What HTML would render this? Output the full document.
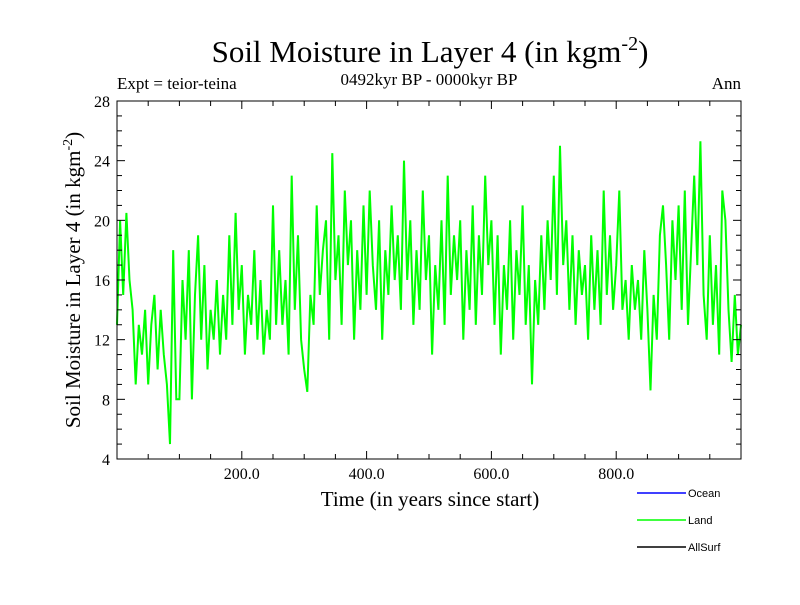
<!DOCTYPE html>
<html><head><meta charset="utf-8"><style>
body{margin:0;background:#fff;}
svg text{font-family:"Liberation Serif",serif;}
</style></head><body>
<svg id="chart" width="800" height="600">
<text x="430" y="62" font-size="31" text-anchor="middle">Soil Moisture in Layer 4 (in kgm<tspan dy="-12" font-size="20">-2</tspan><tspan dy="12">)</tspan></text>
<text x="117" y="89" font-size="17">Expt = teior-teina</text>
<text x="429" y="85" font-size="17" text-anchor="middle">0492kyr BP - 0000kyr BP</text>
<text x="741" y="89" font-size="17" text-anchor="end">Ann</text>
<g id="plot"></g>
<text x="430" y="506" font-size="21" text-anchor="middle">Time (in years since start)</text>
<text transform="translate(80,280) rotate(-90)" font-size="21" text-anchor="middle">Soil Moisture in Layer 4 (in kgm<tspan dy="-8" font-size="14">-2</tspan><tspan dy="8">)</tspan></text>
<g>
<line x1="637" y1="493" x2="686" y2="493" stroke="#0000ff" stroke-width="1.5"/>
<text x="688" y="497" font-size="11" style="font-family:'Liberation Sans',sans-serif">Ocean</text>
<line x1="637" y1="520" x2="686" y2="520" stroke="#00ff00" stroke-width="1.5"/>
<text x="688" y="524" font-size="11" style="font-family:'Liberation Sans',sans-serif">Land</text>
<line x1="637" y1="547" x2="686" y2="547" stroke="#000" stroke-width="1.5"/>
<text x="688" y="551" font-size="11" style="font-family:'Liberation Sans',sans-serif">AllSurf</text>
</g>
</svg>
<script>
const yTicks=[4,8,12,16,20,24,28];
const xTicks=[200,400,600,800];
const xTickLabels=["200.0","400.0","600.0","800.0"];
const yearStep=5;
const land=[
13,20,15,20.5,16,14,9,13,11,14,
9,13,15,10,14,11,9,5,18,8,
8,16,12,18,8,15,19,12,17,10,
14,12,16,11,15,12,19,13,20.5,14,
17,11,15,13,18,12,16,11,14,12,
21,13,18,13,16,11,23,14,19,12,
10,8.5,15,13,21,15,18,20,12,24.5,
16,19,13,22,17,20,12,18,14,21,
15,22,17,14,20,12,18,15,21,16,
19,14,24,16,20,13,18,14,22,16,
19,11,17,14,20,13,23,15,19,16,
20,12,18,14,21,13,19,15,23,17,
20,13,19,11,17,14,20,12,18,15,
21,13,17,9,16,13,19,14,20,16,
23,15,25,17,20,14,19,13,18,15,
17,12,19,14,18,13,22,15,19,14,
17,22,14,16,12,17,14,16,12,18,
14,8.6,15,12,19,21,17,12,20,16,
21,14,22,13,18,23,17,25.3,15,12,
19,13,17,11,22,20,14,10.5,15,11,
13];
</script>
<script>
const plot=document.getElementById('plot');
const NS='http://www.w3.org/2000/svg';
const X0=117,X1=741,Y0=459,Y1=101;
const xs=v=>X0+(v/1000)*(X1-X0);
const ys=v=>Y0-(v-4)/24*(Y0-Y1);
function mk(t,a){const e=document.createElementNS(NS,t);for(const k in a)e.setAttribute(k,a[k]);plot.appendChild(e);return e;}
let pts=land.map((v,i)=>xs(Math.min(i*yearStep,1000)).toFixed(1)+','+ys(v).toFixed(1)).join(' ');
const line=mk('polyline',{points:pts,fill:'none',stroke:'#00ff00','stroke-width':2,'stroke-linejoin':'miter'});


const fr=mk('rect',{x:X0,y:Y1,width:X1-X0,height:Y0-Y1,fill:'none',stroke:'#000','stroke-width':1});


for(let v=0;v<=1000;v+=50){const major=v%200===0;const L=major?8:5;
mk('line',{x1:xs(v),x2:xs(v),y1:Y0,y2:Y0-L,stroke:'#000'});mk('line',{x1:xs(v),x2:xs(v),y1:Y1,y2:Y1+L,stroke:'#000'});}
for(let v=4;v<=28;v+=1){const major=(v%4===0);const L=major?8:5;
mk('line',{x1:X0,x2:X0+L,y1:ys(v),y2:ys(v),stroke:'#000'});mk('line',{x1:X1,x2:X1-L,y1:ys(v),y2:ys(v),stroke:'#000'});}
xTicks.forEach((v,i)=>{const t=mk('text',{x:xs(v),y:Y0+20,'font-size':16,'text-anchor':'middle'});t.textContent=xTickLabels[i];

});
yTicks.forEach(v=>{const t=mk('text',{x:X0-7,y:ys(v)+6,'font-size':16,'text-anchor':'end'});t.textContent=v;

});
</script>
</body></html>
